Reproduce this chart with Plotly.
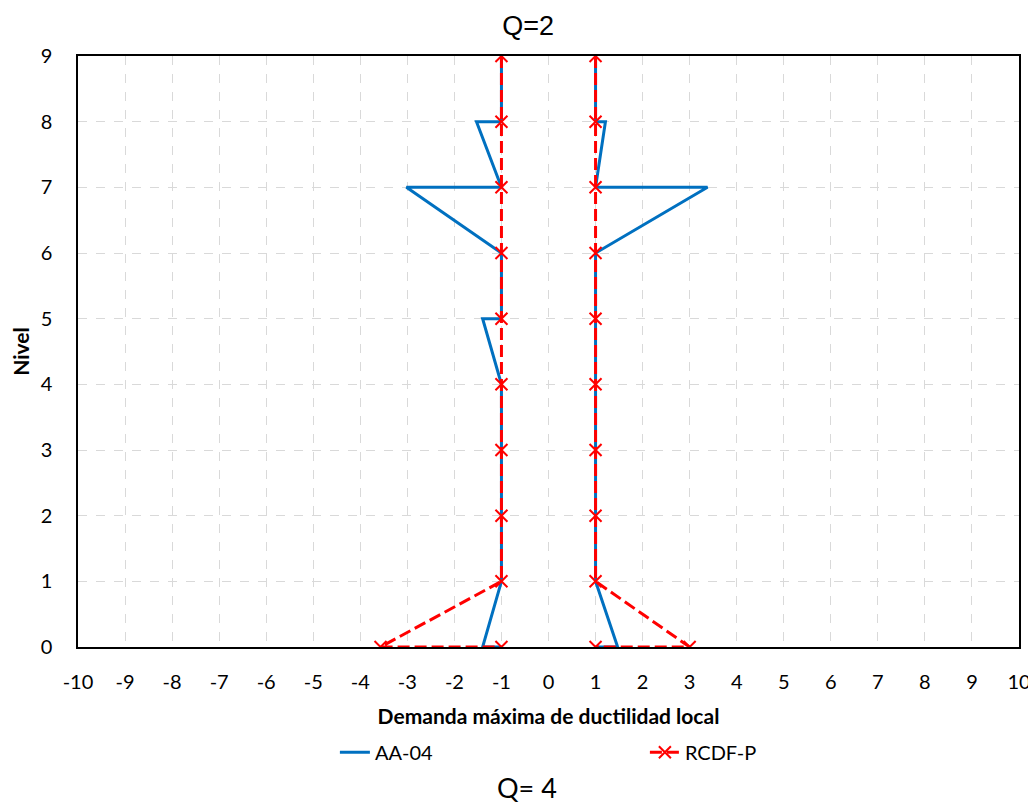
import plotly.graph_objects as go

# AA-04 (blue) path, left and right sides
aa04_left_x = [-1, -1, -1.53, -1, -3.02, -1, -1, -1.40, -1, -1, -1, -1, -1.40, -1]
aa04_left_y = [9, 8, 8, 7, 7, 6, 5, 5, 4, 3, 2, 1, 0, 0]
aa04_right_x = [1, 1, 1.21, 1, 3.38, 1, 1, 1, 1, 1, 1, 1.47, 1]
aa04_right_y = [9, 8, 8, 7, 7, 6, 5, 4, 3, 2, 1, 0, 0]

# RCDF-P (red dashed)
rcdf_left_x = [-1, -1, -1, -1, -1, -1, -1, -1, -1, -3.57, -1]
rcdf_left_y = [9, 8, 7, 6, 5, 4, 3, 2, 1, 0, 0]
rcdf_right_x = [1, 1, 1, 1, 1, 1, 1, 1, 1, 3.0, 1]
rcdf_right_y = [9, 8, 7, 6, 5, 4, 3, 2, 1, 0, 0]

x_ticks = list(range(-10, 11))
y_ticks = list(range(0, 10))

BODY_FONT = "Lato, 'Open Sans', sans-serif"

fig = go.Figure()
fig.add_trace(go.Scatter(
    x=aa04_left_x + [None] + aa04_right_x,
    y=aa04_left_y + [None] + aa04_right_y,
    mode="lines", name="AA-04",
    line=dict(color="#0070C0", width=3),
))
fig.add_trace(go.Scatter(
    x=rcdf_left_x + [None] + rcdf_right_x,
    y=rcdf_left_y + [None] + rcdf_right_y,
    mode="lines+markers", name="RCDF-P",
    line=dict(color="#FF0000", width=3, dash="12px,5px"),
    marker=dict(symbol="x-thin", size=12, color="#FF0000",
                line=dict(color="#FF0000", width=2)),
))

fig.update_layout(
    width=1028, height=797,
    paper_bgcolor="white", plot_bgcolor="white",
    margin=dict(l=70, r=17, t=48, b=158, autoexpand=False),
    title=dict(text="Q=2", x=0.506, xanchor="center", y=0.978, yanchor="middle",
               font=dict(family="Liberation Sans, Arial", size=27, color="#000")),
    font=dict(family=BODY_FONT, size=20, color="#000"),
    showlegend=True,
    legend=dict(orientation="h", x=0.273, xanchor="left", y=-0.178, yanchor="middle",
                entrywidth=265, entrywidthmode="pixels",
                font=dict(family=BODY_FONT, size=20, color="#000"),
                bgcolor="rgba(0,0,0,0)"),
    annotations=[dict(text="Q= 4", x=0.477, xref="paper", y=-0.238, yref="paper",
                      showarrow=False, xanchor="center", yanchor="middle",
                      font=dict(family=BODY_FONT, size=27, color="#000"))],
)
fig.update_xaxes(
    range=[-10, 10], tickvals=x_ticks, ticktext=[str(v) for v in x_ticks],
    showgrid=True, gridcolor="#D9D9D9", griddash="dash", gridwidth=1,
    showline=True, linecolor="#000", linewidth=1.5, mirror=True,
    zeroline=False, ticks="", ticklen=0, ticklabelstandoff=16,
    tickfont=dict(family=BODY_FONT, size=20),
    title=dict(text="<b>Demanda máxima de ductilidad local</b>", standoff=18,
               font=dict(family=BODY_FONT, size=21)),
)
fig.update_yaxes(
    range=[0, 9], tickvals=y_ticks,
    showgrid=True, gridcolor="#D9D9D9", griddash="dash", gridwidth=1,
    showline=True, linecolor="#000", linewidth=1.5, mirror=True,
    zeroline=False, ticks="", ticklen=0, ticklabelstandoff=20,
    tickfont=dict(family=BODY_FONT, size=20),
    title=dict(text="<b>Nivel</b>", standoff=10,
               font=dict(family=BODY_FONT, size=21)),
)

fig.write_html("out.html")
